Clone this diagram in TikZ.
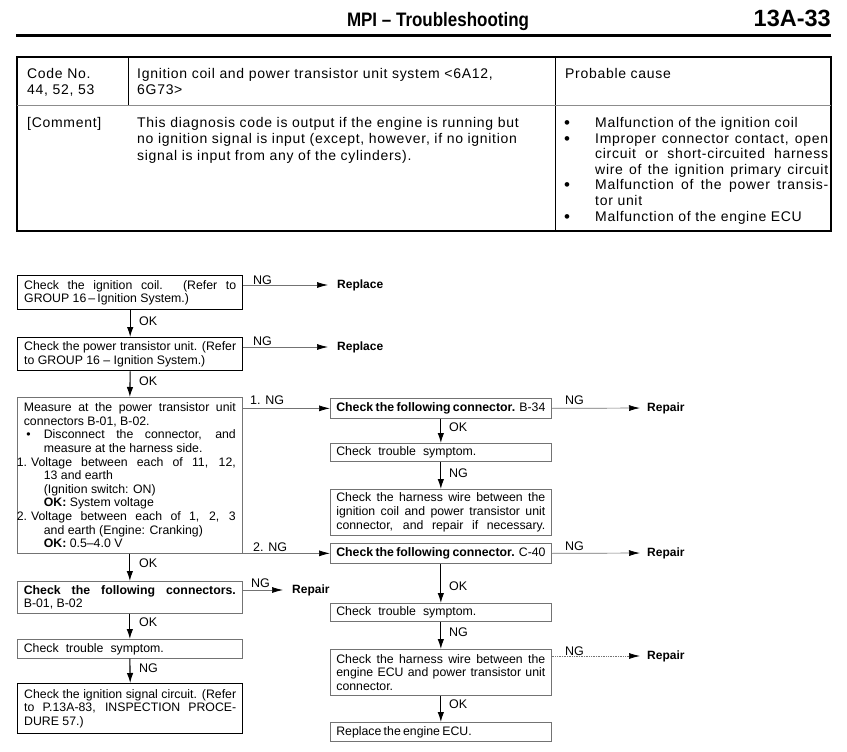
\documentclass[tikz,border=0pt]{standalone}
\usepackage{fontspec}
\setmainfont{Liberation Sans}
\newfontfamily\hdfont[FakeStretch=0.87,Ligatures=TeX]{Liberation Sans}
\newfontfamily\tabfont[LetterSpace=5,Ligatures=TeX]{Liberation Sans}
\usetikzlibrary{arrows.meta}
\newcommand\LB[2]{\vtop{\hsize=#1\relax\parindent=0pt #2}}
\newcommand\JL[1]{\hbox to\hsize{#1}}
\newcommand\NL[1]{\hbox to\hsize{#1\hfil}}
\newcommand\SL[2]{\hbox to\hsize{\hbox to #1{#2}\hfil}}
\newcommand\mybul{\hbox to 31pt{\raisebox{-1pt}{\fontsize{17}{17}\selectfont\textbullet}\hfil}}
\newcommand\myind{\hskip 31pt\relax}
\begin{document}
\begin{tikzpicture}[x=1pt,y=-1pt,
  flow/.style={font=\fontsize{12.3}{13.6}\selectfont},
  bx/.style={anchor=north west, inner xsep=6.5pt, inner ysep=0pt, minimum width=225pt, flow},
  rbx/.style={bx, inner xsep=6pt, minimum width=221pt},
  heavy/.style={draw=black, line width=1.4pt},
  light/.style={draw=black!55, line width=0.7pt},
  down/.style={line width=1.1pt, -{Latex[length=10pt,width=6.5pt]}},
  ngline/.style={draw=black!55, line width=0.7pt, -{Latex[length=11pt,width=6pt,color=black]}, shorten >=7pt},
  lbl/.style={font=\fontsize{12.5}{14}\selectfont, inner sep=0pt, anchor=west},
  res/.style={font=\bfseries\fontsize{12}{14}\selectfont, inner sep=0pt, anchor=west},
  tab/.style={font=\tabfont\fontsize{14}{16.5}\selectfont, inner sep=0pt, anchor=base west},
]
\fill[white] (0,0) rectangle (847,752);
\useasboundingbox (0,0) rectangle (847,752);

% header
\node[anchor=base, font=\hdfont\bfseries\fontsize{19.5}{22}\selectfont, inner sep=0pt] (title) at (438,27) {MPI -- Troubleshooting};
\node[anchor=base east, font=\bfseries\fontsize{23.5}{26}\selectfont, inner sep=0pt] (page) at (831,26.5) {13A-33};
\draw[line width=2.6pt] (16,35.5) -- (831,35.5);

% table
\draw[line width=1.1pt] (17,57) rectangle (831,231);
\draw[line width=0.7pt] (128,57) -- (128,105);
\draw[line width=0.8pt] (555,57) -- (555,231);
\draw[draw=black!45, line width=0.7pt] (17,105) -- (831,105);
\node[tab] (code) at (27,78) {\LB{100pt}{\NL{Code No.}\NL{44, 52, 53}}};
\node[tab] (sys) at (137,78) {\LB{410pt}{\NL{Ignition coil and power transistor unit system <6A12,}\NL{6G73>}}};
\node[tab] (pc) at (565,78) {Probable cause};
\node[tab] (cm) at (27,127.5) {[Comment]};
\node[tab] (desc) at (137,127.5) {\LB{410pt}{\NL{This diagnosis code is output if the engine is running but}\NL{no ignition signal is input (except, however, if no ignition}\NL{signal is input from any of the cylinders).}}};
\node[tab] (causes) at (564,127.5) {\LB{264pt}{\baselineskip=15.6pt
  \NL{\mybul Malfunction of the ignition coil}
  \JL{\mybul Improper connector contact, open}
  \JL{\myind circuit or short-circuited harness}
  \JL{\myind wire of the ignition primary circuit}
  \JL{\mybul Malfunction of the power transis-}
  \NL{\myind tor unit}
  \NL{\mybul Malfunction of the engine ECU}}};

% left column
\node[bx, heavy, minimum height=34pt] (b1) at (17,275) {\LB{212pt}{\JL{Check the ignition coil. (Refer to}\NL{GROUP 16\,--\,Ignition System.)}}};
\node[bx, heavy, minimum height=33pt] (b2) at (17,337) {\LB{212pt}{\JL{Check the power transistor unit. (Refer}\NL{to GROUP 16 -- Ignition System.)}}};
\node[bx, light, minimum height=156pt] (b3) at (17,397) {\LB{212pt}{
  \JL{Measure at the power transistor unit}
  \NL{connectors B-01, B-02.}
  \JL{\hbox to 20pt{\hskip2.5pt\textbullet\hfil}Disconnect the connector, and}
  \NL{\hskip20pt measure at the harness side.}
  \JL{\hskip-7pt 1.\hskip4pt Voltage between each of 11, 12,}
  \NL{\hskip20pt 13 and earth}
  \NL{\hskip20pt (Ignition switch: ON)}
  \NL{\hskip20pt \textbf{OK:} System voltage}
  \JL{\hskip-7pt 2.\hskip4pt Voltage between each of 1, 2, 3}
  \NL{\hskip20pt and earth (Engine: Cranking)}
  \NL{\hskip20pt \textbf{OK:} 0.5--4.0 V}}};
\node[bx, light, minimum height=32pt] (b4) at (17,581) {\LB{212pt}{\JL{\textbf{Check the following connectors.}}\NL{B-01, B-02}}};
\node[bx, light, minimum height=19pt] (b5) at (17,639) {\LB{212pt}{\SL{140pt}{Check trouble symptom.}}};
\node[bx, heavy, minimum height=50pt] (b6) at (17,683) {\LB{212pt}{\JL{Check the ignition signal circuit. (Refer}\JL{to P.13A-83, INSPECTION PROCE-}\NL{DURE 57.)}}};

% right column
\node[rbx, light, minimum height=20pt] (r1) at (330,398) {\LB{209pt}{\NL{\textbf{Check the following connector.} B-34}}};
\node[rbx, light, minimum height=18pt] (r2) at (330,443) {\LB{209pt}{\SL{140pt}{Check trouble symptom.}}};
\node[rbx, light, minimum height=46pt] (r3) at (330,489) {\LB{209pt}{\JL{Check the harness wire between the}\JL{ignition coil and power transistor unit}\JL{connector, and repair if necessary.}}};
\node[rbx, light, minimum height=20pt] (r4) at (330,543) {\LB{209pt}{\NL{\textbf{Check the following connector.} C-40}}};
\node[rbx, light, minimum height=18pt] (r5) at (330,603) {\LB{209pt}{\SL{140pt}{Check trouble symptom.}}};
\node[rbx, light, minimum height=46pt] (r6) at (330,649) {\LB{209pt}{\JL{Check the harness wire between the}\JL{engine ECU and power transistor unit}\NL{connector.}}};
\node[rbx, light, minimum height=19pt] (r7) at (330,722) {\LB{209pt}{\SL{135pt}{Replace the engine ECU.}}};

% results
\node[res] (rp1) at (337,285) {Replace};
\node[res] (rp2) at (337,347) {Replace};
\node[res] (rb4) at (292,590) {Repair};
\node[res] (rr1) at (647,408) {Repair};
\node[res] (rr4) at (647,553) {Repair};
\node[res] (rr6) at (647,656) {Repair};

% vertical connectors
\draw[down] (b1.south) -- (b2.north);
\draw[down] (b2.south) -- (b3.north);
\draw[down] (b3.south) -- (b4.north);
\draw[down] (b4.south) -- (b5.north);
\draw[down] (b5.south) -- (b6.north);
\draw[down] (r1.south) -- (r2.north);
\draw[down] (r2.south) -- (r3.north);
\draw[down] (r4.south) -- (r5.north);
\draw[down] (r5.south) -- (r6.north);
\draw[down] (r6.south) -- (r7.north);

% horizontal connectors
\draw[ngline, shorten >=9pt] (b1.east |- rp1.west) -- (rp1.west);
\draw[ngline, shorten >=9pt] (b2.east |- rp2.west) -- (rp2.west);
\draw[ngline, shorten >=0pt] (r1.west -| b3.east) -- (r1.west);
\draw[ngline, shorten >=0pt] (r4.west -| b3.east) -- (r4.west);
\draw[ngline, shorten >=9pt] (b4.east |- rb4.west) -- (rb4.west);
\draw[ngline] (r1.east) -- (rr1.west);
\draw[ngline] (r4.east) -- (rr4.west);
\draw[ngline, densely dotted] (r6.east |- rr6.west) -- (rr6.west);

% labels
\node[lbl] (ok1) at (139,321) {OK};
\node[lbl] (ok2) at (139,381) {OK};
\node[lbl] (ok3) at (139,563) {OK};
\node[lbl] (ok4) at (139,622) {OK};
\node[lbl] (ng5) at (139,668) {NG};
\node[lbl] (okr1) at (449,427) {OK};
\node[lbl] (ngr2) at (449,473) {NG};
\node[lbl] (okr4) at (449,586) {OK};
\node[lbl] (ngr5) at (449,632) {NG};
\node[lbl] (okr6) at (449,704) {OK};
\node[lbl] (ng1) at (253,280) {NG};
\node[lbl] (ng2) at (253,341) {NG};
\node[lbl] (ng3a) at (250,400) {1. NG};
\node[lbl] (ng3b) at (253,547) {2. NG};
\node[lbl] (ng4) at (251,583) {NG};
\node[lbl] (ngr1) at (565,400) {NG};
\node[lbl] (ngr4) at (565,546) {NG};
\node[lbl] (ngr6) at (565,651) {NG};
\end{tikzpicture}
\end{document}
